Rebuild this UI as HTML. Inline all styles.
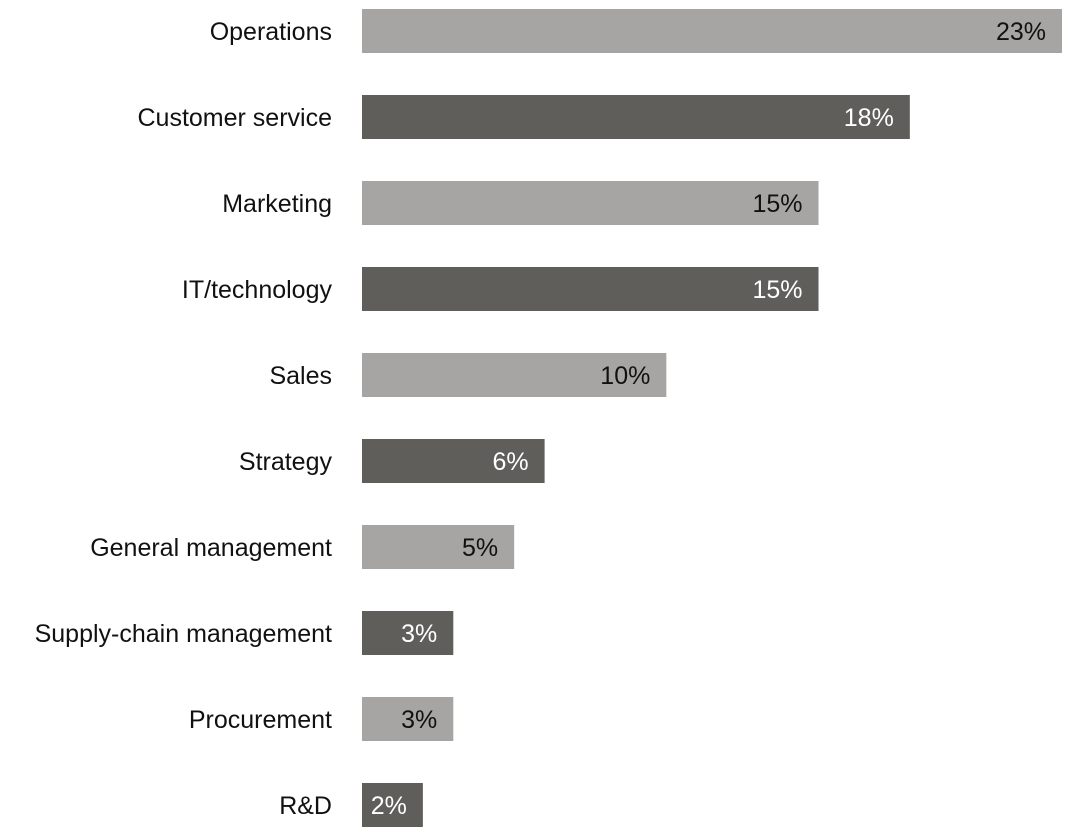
<!DOCTYPE html>
<html><head><meta charset="utf-8"><style>
body{margin:0;background:#fff;width:1068px;height:835px;overflow:hidden}
svg text{font-family:"Liberation Sans",sans-serif;font-size:25px}
</style></head><body>
<svg id="chart" width="1068" height="835" xmlns="http://www.w3.org/2000/svg"></svg>
<script>
const categories=["Operations","Customer service","Marketing","IT/technology","Sales","Strategy","General management","Supply-chain management","Procurement","R&D"];
const values=[23,18,15,15,10,6,5,3,3,2];
const valueLabels=["23%","18%","15%","15%","10%","6%","5%","3%","3%","2%"];
const svg=document.getElementById('chart');
const NS='http://www.w3.org/2000/svg';
const x0=362,scale=700/23;
function xPos(v){return x0+v*scale;}
function yPos(i){return 9+i*86;}
categories.forEach((c,i)=>{
  const dark=i%2===1;
  const r=document.createElementNS(NS,'rect');
  
  
  r.setAttribute('x',x0);r.setAttribute('y',yPos(i));
  r.setAttribute('width',xPos(values[i])-x0);r.setAttribute('height',44);
  r.setAttribute('fill',dark?'#5f5e5a':'#a6a5a3');
  svg.appendChild(r);
  const t=document.createElementNS(NS,'text');
  
  
  t.setAttribute('x',332);t.setAttribute('y',yPos(i)+31);
  t.setAttribute('text-anchor','end');t.setAttribute('fill','#111');
  t.textContent=c;svg.appendChild(t);
  const v=document.createElementNS(NS,'text');
  
  
  v.setAttribute('x',xPos(values[i])-16);v.setAttribute('y',yPos(i)+31);
  v.setAttribute('text-anchor','end');v.setAttribute('fill',dark?'#fff':'#111');
  v.textContent=valueLabels[i];svg.appendChild(v);
});
</script>
</body></html>
